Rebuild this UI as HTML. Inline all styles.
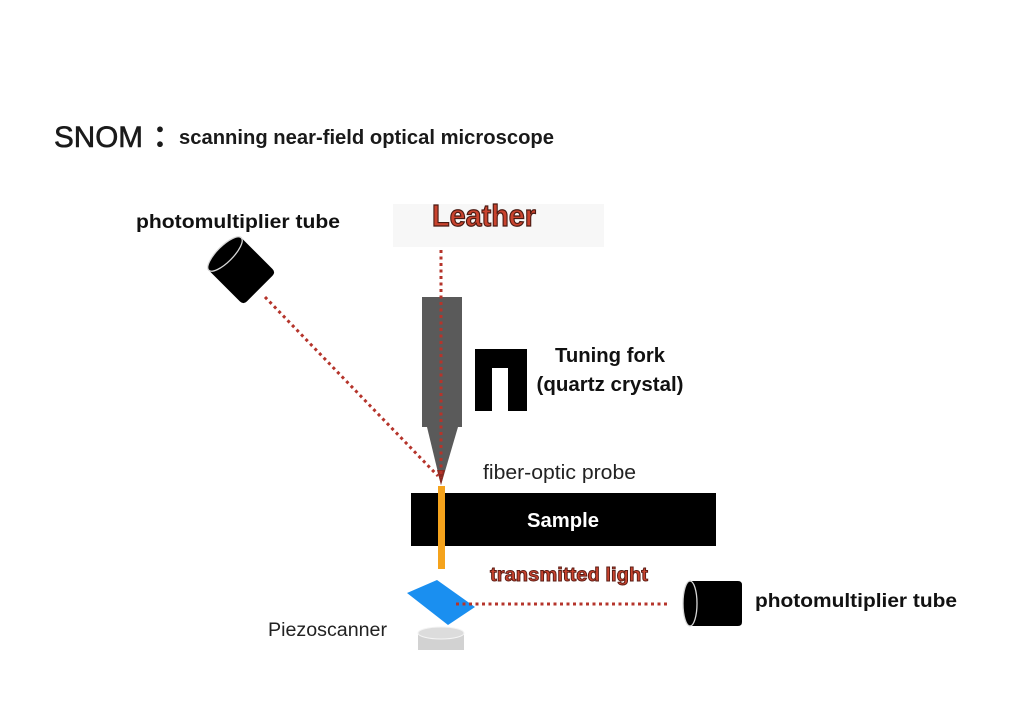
<!DOCTYPE html>
<html>
<head>
<meta charset="utf-8">
<style>
  html,body{margin:0;padding:0;background:#fff;}
  body{width:1024px;height:723px;overflow:hidden;}
  svg{display:block;}
</style>
</head>
<body>
<svg width="1024" height="723" viewBox="0 0 1024 723" xmlns="http://www.w3.org/2000/svg">
  <rect width="1024" height="723" fill="#ffffff"/>

  <!-- Title -->
  <text x="54" y="147" font-family="Liberation Sans, sans-serif" font-size="30" fill="#1a1a1a" stroke="#1a1a1a" stroke-width="0.6" textLength="89" lengthAdjust="spacingAndGlyphs">SNOM</text>
  <text x="145" y="148" font-family="Liberation Sans, 'Noto Sans CJK JP', sans-serif" font-size="30" font-weight="bold" fill="#1a1a1a">：</text>
  <text x="179" y="144" font-family="Liberation Sans, sans-serif" font-size="20" font-weight="bold" fill="#1a1a1a" textLength="375" lengthAdjust="spacingAndGlyphs">scanning near-field optical microscope</text>

  <!-- Leather box -->
  <rect x="393" y="204" width="211" height="43" fill="#f7f7f7"/>
  <text x="432" y="226" font-family="Liberation Sans, sans-serif" font-size="31" font-weight="bold" fill="#c9432e" stroke="#4a1a12" stroke-width="1.2" textLength="104" lengthAdjust="spacingAndGlyphs">Leather</text>

  <!-- top-left photomultiplier tube label -->
  <text x="136" y="228" font-family="Liberation Sans, sans-serif" font-size="19" font-weight="bold" fill="#111" textLength="204" lengthAdjust="spacingAndGlyphs">photomultiplier tube</text>

  <!-- top-left PMT (rotated cylinder) -->
  <g transform="translate(225,254) rotate(45)">
    <path d="M0,-23 L44,-23 Q49,-23 49,-18 L49,18 Q49,23 44,23 L0,23 Z" fill="#000"/>
    <ellipse cx="0" cy="0" rx="8" ry="23" fill="#000" stroke="#d8d8d8" stroke-width="1.3"/>
  </g>

  <!-- Probe -->
  <rect x="422" y="297" width="40" height="130" fill="#5a5a5a"/>
  <polygon points="427,427 458,427 441,485" fill="#5a5a5a"/>
  <polygon points="437,470 445,470 441,485" fill="#8a2a22"/>

  <!-- Tuning fork -->
  <path d="M475,349 L527,349 L527,411 L508,411 L508,368 L492,368 L492,411 L475,411 Z" fill="#000"/>
  <text x="610" y="362" text-anchor="middle" font-family="Liberation Sans, sans-serif" font-size="20" font-weight="bold" fill="#111" textLength="110" lengthAdjust="spacingAndGlyphs">Tuning fork</text>
  <text x="610" y="391" text-anchor="middle" font-family="Liberation Sans, sans-serif" font-size="20" font-weight="bold" fill="#111" textLength="147" lengthAdjust="spacingAndGlyphs">(quartz crystal)</text>

  <!-- fiber-optic probe label -->
  <text x="483" y="479" font-family="Liberation Sans, sans-serif" font-size="20" fill="#222" textLength="153" lengthAdjust="spacingAndGlyphs">fiber-optic probe</text>

  <!-- dotted light paths -->
  <line x1="441" y1="250" x2="441" y2="478" stroke="#b5342b" stroke-width="3" stroke-dasharray="3 3.5"/>
  <line x1="265" y1="297" x2="438" y2="476" stroke="#b5342b" stroke-width="3" stroke-dasharray="3 3.5"/>

  <!-- Sample -->
  <rect x="411" y="493" width="305" height="53" fill="#000"/>
  <text x="563" y="527" text-anchor="middle" font-family="Liberation Sans, sans-serif" font-size="20" font-weight="bold" fill="#fff" textLength="72" lengthAdjust="spacingAndGlyphs">Sample</text>

  <!-- Orange fiber -->
  <rect x="438" y="486" width="7" height="83" fill="#f5a31c"/>

  <!-- transmitted light -->
  <text x="490" y="581" font-family="Liberation Sans, sans-serif" font-size="19" font-weight="bold" fill="#c9432e" stroke="#5a1c14" stroke-width="0.9" textLength="158" lengthAdjust="spacingAndGlyphs">transmitted light</text>

  <!-- Piezoscanner -->
  <path d="M418,633 L418,650 L464,650 L464,633 Z" fill="#d2d2d2"/>
  <ellipse cx="441" cy="633" rx="23" ry="6" fill="#dcdcdc" stroke="#f4f4f4" stroke-width="1"/>
  <polygon points="407,593 437,580 475,607 448,625" fill="#1a8ff0"/>
  <text x="268" y="636" font-family="Liberation Sans, sans-serif" font-size="19" fill="#222" textLength="119" lengthAdjust="spacingAndGlyphs">Piezoscanner</text>

  <!-- horizontal dotted to right PMT -->
  <line x1="456" y1="604" x2="670" y2="604" stroke="#b5342b" stroke-width="3" stroke-dasharray="3 3.5"/>

  <!-- right PMT -->
  <path d="M690,581 L738,581 Q742,581 742,585 L742,622 Q742,626 738,626 L690,626 Z" fill="#000"/>
  <ellipse cx="690" cy="603.5" rx="7" ry="22.5" fill="#000" stroke="#d8d8d8" stroke-width="1.3"/>
  <text x="755" y="607" font-family="Liberation Sans, sans-serif" font-size="19" font-weight="bold" fill="#111" textLength="202" lengthAdjust="spacingAndGlyphs">photomultiplier tube</text>
</svg>
</body>
</html>
